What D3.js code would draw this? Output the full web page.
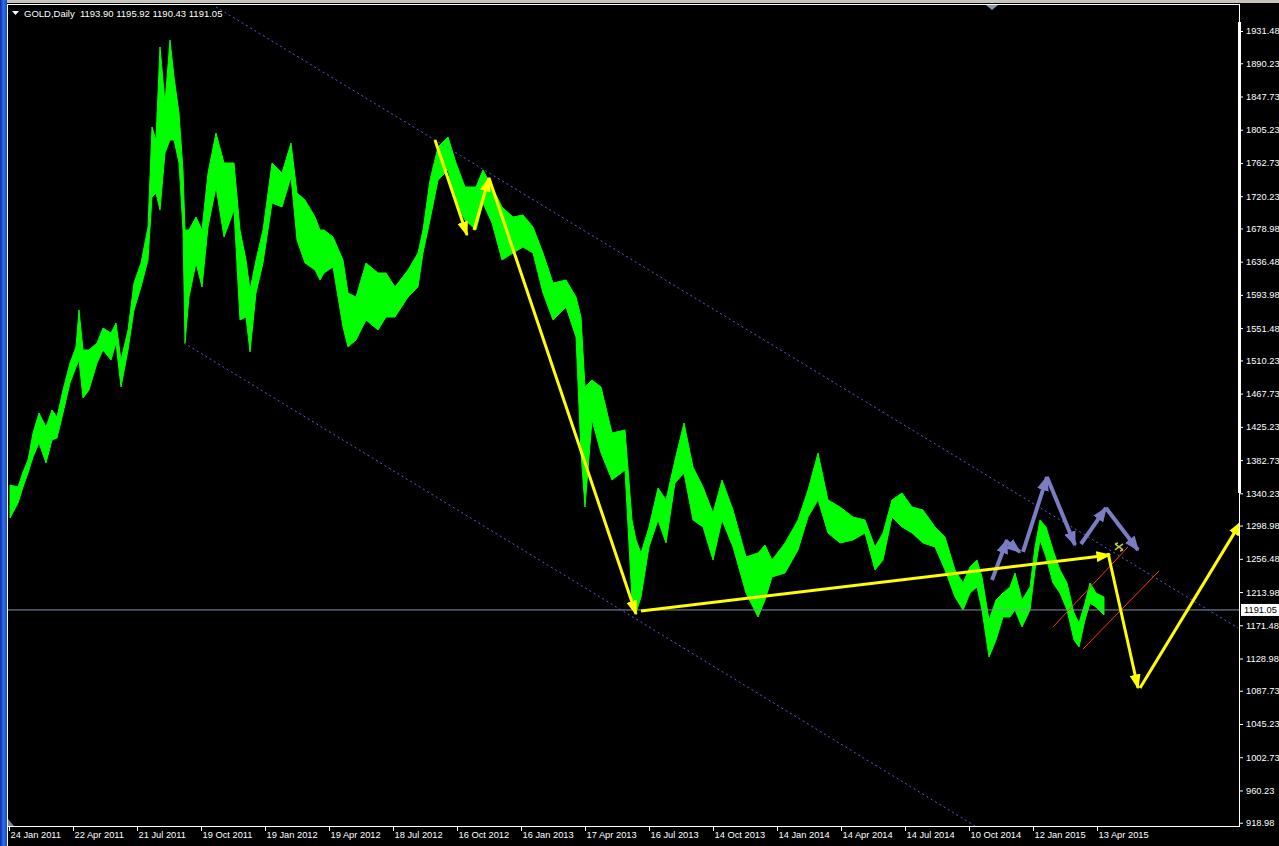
<!DOCTYPE html>
<html><head><meta charset="utf-8">
<script src="https://cdn.jsdelivr.net/npm/d3@7"></script>
<style>html,body{margin:0;padding:0;background:#000;overflow:hidden}</style>
</head><body><svg id="c" width="1279" height="846"></svg>
<script>
// ---------------- DATA ----------------
const symbolTitle = "GOLD,Daily";
const titleQuotes = [1193.90, 1195.92, 1190.43, 1191.05];
const dateTickIndex = [0,64,128,192,256,320,384,448,512,576,640,704,768,832,896,960,1024,1088];
const dateTickLabels = ["24 Jan 2011","22 Apr 2011","21 Jul 2011","19 Oct 2011","19 Jan 2012","19 Apr 2012",
  "18 Jul 2012","16 Oct 2012","16 Jan 2013","17 Apr 2013","16 Jul 2013","14 Oct 2013","14 Jan 2014",
  "14 Apr 2014","14 Jul 2014","10 Oct 2014","12 Jan 2015","13 Apr 2015"];
const priceTicks = [1931.48,1890.23,1847.73,1805.23,1762.73,1720.23,1678.98,1636.48,1593.98,1551.48,1510.23,
  1467.73,1425.23,1382.73,1340.23,1298.98,1256.48,1213.98,1171.48,1128.98,1087.73,1045.23,1002.73,960.23,918.98];
const lastPrice = 1191.05;

// bar index (one per trading day) and the high / low read at that bar
const barIndex = [1,9,14,19,24,30,37,43,48,54,61,67,70,74,80,88,94,102,107,112,119,125,132,139,143,147,151,156,161,165,170,174,176,180,187,193,199,207,215,225,231,237,241,247,254,263,273,282,288,296,306,311,315,324,334,339,347,357,369,377,386,399,409,414,421,429,439,447,456,467,474,483,493,504,514,524,534,544,557,567,572,576,583,592,603,616,623,627,632,640,649,657,666,675,684,694,704,713,724,737,749,756,763,776,789,799,809,819,831,844,856,866,874,883,893,903,914,926,936,946,954,961,968,973,980,987,994,1001,1006,1013,1021,1026,1031,1037,1044,1051,1058,1065,1070,1076,1081,1087,1095];
const highs = [1350.9,1348.3,1367.5,1382.8,1417.4,1442.9,1425.0,1446.8,1437.8,1472.4,1506.9,1527.4,1574.7,1523.5,1523.5,1532.5,1551.6,1545.3,1558.0,1510.7,1549.1,1609.2,1634.8,1680.8,1808.7,1792.1,1911.0,1839.4,1920.0,1872.6,1826.6,1753.7,1677.0,1677.0,1693.6,1677.0,1749.9,1801.0,1762.7,1762.7,1677.0,1638.6,1600.2,1638.6,1677.0,1762.7,1749.9,1788.2,1724.3,1715.3,1693.6,1677.0,1677.0,1668.0,1638.6,1596.4,1591.3,1634.8,1622.0,1622.0,1604.1,1625.8,1647.6,1677.0,1740.9,1783.1,1795.9,1762.7,1732.0,1732.0,1753.7,1732.0,1706.4,1693.6,1696.2,1680.8,1647.6,1609.2,1613.0,1591.3,1565.7,1476.2,1485.1,1476.2,1417.4,1421.2,1306.1,1280.5,1263.9,1297.2,1347.0,1331.7,1382.8,1430.2,1373.9,1348.3,1315.1,1357.3,1318.9,1258.8,1263.9,1274.1,1254.9,1276.7,1306.1,1344.5,1391.8,1331.7,1322.7,1309.9,1306.1,1271.6,1289.5,1331.7,1340.6,1322.7,1318.9,1297.2,1284.4,1242.2,1225.5,1246.0,1254.9,1233.2,1178.2,1203.8,1212.7,1220.4,1238.3,1203.8,1220.4,1271.6,1306.1,1297.2,1267.7,1242.2,1225.5,1187.2,1174.4,1200.0,1225.5,1212.7,1207.6];
const lows = [1308.7,1327.8,1348.3,1366.2,1386.7,1404.6,1379.0,1408.4,1411.0,1442.9,1481.3,1501.8,1510.7,1462.1,1472.4,1506.9,1523.5,1510.7,1532.5,1476.2,1523.5,1574.7,1604.1,1638.6,1719.2,1724.3,1702.6,1775.5,1792.1,1792.1,1762.7,1677.0,1532.5,1591.3,1634.8,1604.1,1680.8,1732.0,1668.0,1702.6,1561.9,1565.7,1521.0,1596.4,1634.8,1711.5,1706.4,1744.8,1664.2,1634.8,1625.8,1613.0,1622.0,1629.7,1552.9,1527.4,1536.3,1561.9,1549.1,1565.7,1565.7,1591.3,1604.1,1647.6,1689.8,1740.9,1753.7,1711.5,1689.8,1677.0,1711.5,1685.9,1638.6,1647.6,1655.2,1647.6,1596.4,1561.9,1578.5,1540.1,1391.8,1322.7,1434.0,1391.8,1357.3,1370.0,1203.8,1187.2,1207.6,1271.6,1306.1,1276.7,1353.4,1366.2,1306.1,1297.2,1254.9,1306.1,1271.6,1212.7,1182.0,1203.8,1233.2,1238.3,1267.7,1309.9,1331.7,1289.5,1276.7,1280.5,1289.5,1242.2,1254.9,1309.9,1297.2,1289.5,1276.7,1271.6,1242.2,1207.6,1191.0,1212.7,1220.4,1191.0,1130.9,1152.6,1182.0,1182.0,1191.0,1169.3,1191.0,1242.2,1280.5,1258.8,1225.5,1212.7,1191.0,1152.6,1143.7,1178.2,1200.0,1194.8,1184.6];

// drawn objects: [barIndex, price] anchor pairs
const channelUpper = [[207,1962.2],[1229,1168.0]];
const channelLower = [[175,1532.5],[966,914.8]];
const yellowArrows = [
  [[426,1792.1],[458,1670.6]],
  [[465,1677.0],[480,1743.5]],
  [[480,1743.5],[627,1185.9]],
  [[632,1189.7],[1101,1261.3]],
  [[1099,1263.9],[1129,1091.3]],
  [[1131,1091.3],[1232,1303.6]]
];
const purpleArrows = [
  [[983,1229.4],[998,1280.5]],
  [[998,1278.0],[1011,1265.2]],
  [[1014,1265.2],[1038,1361.1]],
  [[1038,1361.1],[1066,1274.1]],
  [[1072,1275.4],[1097,1321.5]],
  [[1097,1321.5],[1129,1267.7]]
];
const redLines = [
  [[1044,1169.3],[1119,1271.6]],
  [[1074,1141.1],[1150,1240.9]]
];
const iconAnchor = [1110,1271.6];

// ---------------- DRAW ----------------
const W = 1279, H = 846;
const svg = d3.select('#c');
const x = d3.scaleLinear().domain([0,1229]).range([9,1238]);
const y = d3.scaleLinear().domain([918.98,1931.48]).range([822.7,31]);
const FONT = "'Liberation Sans', Arial, sans-serif";

svg.append('rect').attr('width',W).attr('height',H).attr('fill','#000');

const defs = svg.append('defs');
const lg = defs.append('linearGradient').attr('id','blueEdge').attr('x1','0').attr('x2','1').attr('y1','0').attr('y2','0');
lg.append('stop').attr('offset','0').attr('stop-color','#0a2a9c');
lg.append('stop').attr('offset','0.5').attr('stop-color','#2f6df0');
lg.append('stop').attr('offset','1').attr('stop-color','#1846c8');
defs.append('clipPath').attr('id','plotClip').append('rect')
  .attr('x',8).attr('y',5).attr('width',1231).attr('height',821);

function marker(id, color, len, wid){
  defs.append('marker').attr('id',id).attr('viewBox','0 0 10 10')
    .attr('refX',9).attr('refY',5).attr('markerUnits','userSpaceOnUse')
    .attr('markerWidth',len).attr('markerHeight',wid).attr('orient','auto')
    .attr('preserveAspectRatio','none')
    .append('path').attr('d','M0,0 L10,5 L0,10 Z').attr('fill',color);
}
marker('ay','#ffff00',15,11);
marker('ap','#7c7cc4',15,12);

// window chrome
svg.append('rect').attr('x',0).attr('y',0).attr('width',W).attr('height',3).attr('fill','#c8c4bc');
svg.append('rect').attr('x',0).attr('y',0).attr('width',7).attr('height',H).attr('fill','url(#blueEdge)');

const plot = svg.append('g').attr('clip-path','url(#plotClip)');

// price band (daily highs / lows)
const bars = barIndex.map((b,i)=>({i:b, hi:highs[i], lo:lows[i]}));
plot.append('path').datum(bars)
  .attr('d', d3.area().x(d=>x(d.i)).y0(d=>y(d.lo)).y1(d=>y(d.hi)))
  .attr('fill','#00ff00').attr('stroke','#00ff00').attr('stroke-width',1);

// last price horizontal line
plot.append('line').attr('x1',8).attr('x2',1239).attr('y1',y(lastPrice)).attr('y2',y(lastPrice))
  .attr('stroke','#8494a8').attr('stroke-width',1);

// channel
[channelUpper, channelLower].forEach(c=>{
  plot.append('line').attr('x1',x(c[0][0])).attr('y1',y(c[0][1])).attr('x2',x(c[1][0])).attr('y2',y(c[1][1]))
    .attr('stroke','#5a5ae6').attr('stroke-width',1).attr('stroke-dasharray','2,3');
});

// red lines
redLines.forEach(c=>{
  plot.append('line').attr('x1',x(c[0][0])).attr('y1',y(c[0][1])).attr('x2',x(c[1][0])).attr('y2',y(c[1][1]))
    .attr('stroke','#ff3c14').attr('stroke-width',1);
});

// purple arrows
purpleArrows.forEach(c=>{
  plot.append('line').attr('x1',x(c[0][0])).attr('y1',y(c[0][1])).attr('x2',x(c[1][0])).attr('y2',y(c[1][1]))
    .attr('stroke','#7c7cc4').attr('stroke-width',4).attr('marker-end','url(#ap)');
});

// yellow arrows
yellowArrows.forEach(c=>{
  plot.append('line').attr('x1',x(c[0][0])).attr('y1',y(c[0][1])).attr('x2',x(c[1][0])).attr('y2',y(c[1][1]))
    .attr('stroke','#ffff00').attr('stroke-width',3).attr('marker-end','url(#ay)');
});

// small icon
const ix = x(iconAnchor[0]), iy = y(iconAnchor[1]);
const ig = plot.append('g').attr('transform',`translate(${ix},${iy})`).attr('stroke','#b8c83c').attr('stroke-width',1.6).attr('fill','none');
ig.append('path').attr('d','M-4,-3 L4,3 M-4,3 L4,-3 M-4,-3 L-1,-4 M4,3 L1,4');

// frame lines
svg.append('line').attr('x1',7.5).attr('x2',7.5).attr('y1',4).attr('y2',H).attr('stroke','#fff');
svg.append('line').attr('x1',7).attr('x2',1240).attr('y1',4.5).attr('y2',4.5).attr('stroke','#fff');
svg.append('line').attr('x1',1239.5).attr('x2',1239.5).attr('y1',4).attr('y2',827).attr('stroke','#fff');
svg.append('rect').attr('x',1238).attr('y',22).attr('width',3).attr('height',471).attr('fill','#fff');
svg.append('line').attr('x1',7).attr('x2',1240).attr('y1',826.5).attr('y2',826.5).attr('stroke','#fff');

// chart shift marker & corner marker
svg.append('path').attr('d','M986,5 L998,5 L992,10 Z').attr('fill','#8898aa');
svg.append('path').attr('d','M8,819 L8,826 L14,826 Z').attr('fill','#7c8494');

// price axis
const yAxis = d3.axisRight(y).tickValues(priceTicks).tickSize(3).tickPadding(3).tickFormat(d3.format('.2f'));
const ya = svg.append('g').attr('transform','translate(1240,0)').call(yAxis);
ya.select('.domain').remove();
ya.selectAll('line').attr('stroke','#fff');
ya.selectAll('text').attr('fill','#fff').attr('font-family',FONT).attr('font-size','9.3px');

// date axis
const xAxis = d3.axisBottom(x).tickValues(dateTickIndex).tickSize(4).tickFormat((d,i)=>dateTickLabels[i]);
const xa = svg.append('g').attr('transform','translate(0,827)').call(xAxis);
xa.select('.domain').remove();
xa.selectAll('line').attr('stroke','#fff');
xa.selectAll('text').attr('fill','#fff').attr('font-family',FONT).attr('font-size','9.3px')
  .attr('text-anchor','start').attr('dx','1').attr('y',4).attr('dy','0.71em');

// last price tag
svg.append('rect').attr('x',1241).attr('y',y(lastPrice)-6).attr('width',38).attr('height',12).attr('fill','#fff');
svg.append('text').attr('x',1244).attr('y',y(lastPrice)).attr('dy','0.35em').attr('fill','#000')
  .attr('font-family',FONT).attr('font-size','9.3px').text(d3.format('.2f')(lastPrice));

// title
svg.append('path').attr('d','M12,11 L19,11 L15.5,15 Z').attr('fill','#fff');
svg.append('text').attr('x',24).attr('y',16.5).attr('fill','#fff').attr('font-family',FONT).attr('font-size','9.5px')
  .attr('xml:space','preserve')
  .text(symbolTitle + "  " + titleQuotes.map(d3.format('.2f')).join(' '));
</script></body></html>
